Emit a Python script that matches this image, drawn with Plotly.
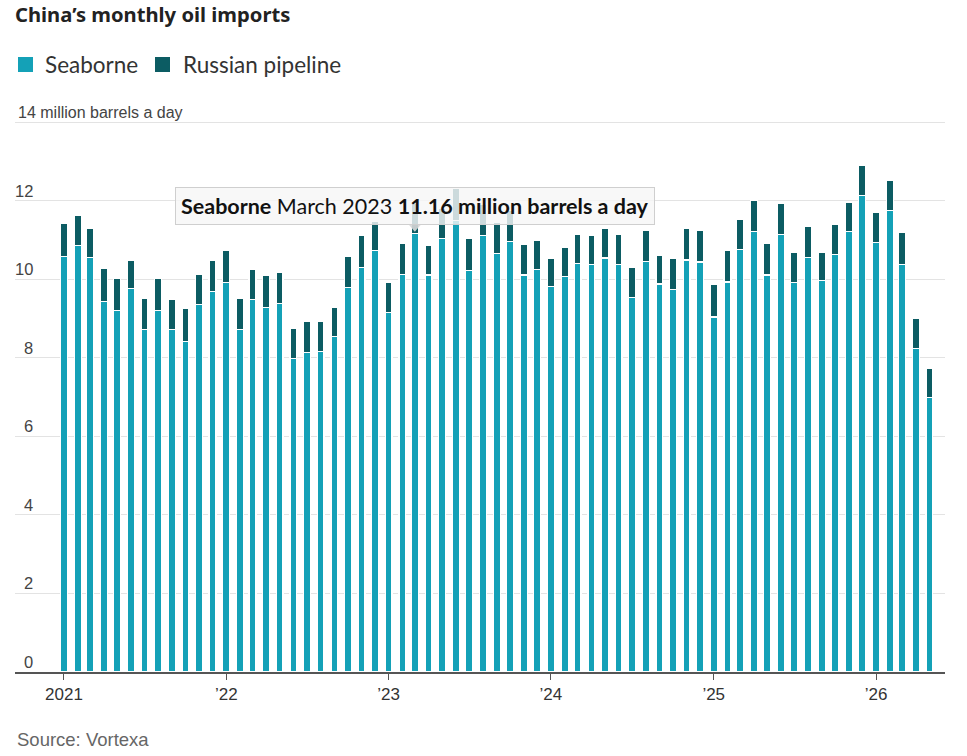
import plotly.graph_objects as go

# ---- data (million barrels a day), monthly Jan 2021 - May 2026 ----
months = [f"{y}-{m:02d}-01" for y in range(2021, 2027) for m in range(1, 13)][:65]

seaborne = [
    10.59, 10.87, 10.56, 9.44, 9.20, 9.76, 8.73, 9.20, 8.73, 8.42, 9.35, 9.68,
    9.92, 8.73, 9.49, 9.28, 9.39, 7.98, 8.13, 8.17, 8.55, 9.80, 10.30, 10.73,
    9.15, 10.13, 11.16, 10.11, 11.03, 11.50, 10.22, 11.12, 10.65, 10.96, 10.11, 10.24,
    9.81, 10.07, 10.41, 10.37, 10.54, 10.37, 9.54, 10.45, 9.88, 9.73, 10.49, 10.44,
    9.04, 9.93, 10.76, 11.21, 10.11, 11.13, 9.92, 10.56, 9.96, 10.64, 11.21, 12.13,
    10.93, 11.75, 10.37, 8.23, 6.98,
]
pipeline = [
    0.84, 0.75, 0.74, 0.84, 0.81, 0.71, 0.79, 0.81, 0.75, 0.83, 0.77, 0.81,
    0.81, 0.79, 0.75, 0.81, 0.78, 0.78, 0.81, 0.77, 0.74, 0.79, 0.81, 0.74,
    0.78, 0.79, 0.78, 0.74, 0.77, 0.82, 0.82, 0.78, 0.80, 0.80, 0.78, 0.76,
    0.73, 0.74, 0.74, 0.74, 0.76, 0.78, 0.77, 0.80, 0.73, 0.81, 0.81, 0.81,
    0.82, 0.80, 0.77, 0.81, 0.81, 0.79, 0.77, 0.78, 0.73, 0.77, 0.76, 0.77,
    0.78, 0.76, 0.82, 0.78, 0.76,
]

year_ticks = ["2021-01-01", "2022-01-01", "2023-01-01", "2024-01-01", "2025-01-01", "2026-01-01"]
year_labels = ["2021", "\u201922", "\u201923", "\u201924", "\u201925", "\u201926"]
y_ticks = [0, 2, 4, 6, 8, 10, 12, 14]
y_labels = ["0", "2", "4", "6", "8", "10", "12", "14 million barrels a day"]
series_names = ["Seaborne", "Russian pipeline"]

hover_idx = 26  # March 2023

SEA = "#14A1B7"
PIPE = "#0C5C63"
COLORS = [SEA, PIPE]
TICKFONT = "Liberation Sans, Arial, sans-serif"
WIDE = "Lato, Noto Sans, sans-serif"

W, H = 967, 756
ML, MR, MT, MB = 15, 22, 121, 84
PW, PH = W - ML - MR, H - MT - MB


def px_x(p):  # pixel -> paper x
    return (p - ML) / PW


def px_y(p):  # pixel -> paper y
    return (H - MB - p) / PH


fig = go.Figure()
for name, vals, col in zip(series_names, [seaborne, pipeline], COLORS):
    fig.add_bar(x=months, y=vals, name=name, marker=dict(color=col, line=dict(color="white", width=1.2)))

fig.update_layout(
    barmode="stack",
    bargap=0.45,
    width=W, height=H,
    margin=dict(l=ML, r=MR, t=MT, b=MB),
    paper_bgcolor="white", plot_bgcolor="white",
    showlegend=False,
    title=dict(text="<b>China\u2019s monthly oil imports</b>", x=15 / W, xref="container", xanchor="left",
               y=1 - 15 / H, yref="container", yanchor="middle",
               font=dict(family="Noto Sans, Lato, sans-serif", size=20.2, color="#222")),
    xaxis=dict(type="date", range=["2020-09-13", "2026-06-05"], tickvals=year_ticks, ticktext=year_labels,
               showgrid=False, showline=True, linecolor="#555", linewidth=2,
               ticks="outside", ticklen=6, tickcolor="#555", tickwidth=1,
               tickfont=dict(family=TICKFONT, size=17, color="#333"), fixedrange=True),
    yaxis=dict(range=[0, 14.03], tickvals=y_ticks, showticklabels=False,
               showgrid=True, gridcolor="#e3e3e3", gridwidth=1, zeroline=False, showline=False,
               ticks="", fixedrange=True),
)

# y-axis labels, sitting above gridlines, numbers right-aligned
for v, lab in zip(y_ticks, y_labels):
    if v == y_ticks[-1]:
        fig.add_annotation(x=px_x(16), xref="paper", y=v, yref="y", text=lab, showarrow=False,
                           xanchor="left", yanchor="bottom", yshift=-1,
                           font=dict(family=TICKFONT, size=16, color="#444"))
    else:
        fig.add_annotation(x=px_x(35), xref="paper", y=v, yref="y", text=lab, showarrow=False,
                           xanchor="right", yanchor="bottom", yshift=-1,
                           font=dict(family=TICKFONT, size=16.5, color="#444"))

# custom legend
legend_sq_x = [18, 155]
legend_txt_x = [43, 181]
for name, col, sx, tx in zip(series_names, COLORS, legend_sq_x, legend_txt_x):
    fig.add_shape(type="rect", xref="paper", yref="paper", x0=px_x(sx), x1=px_x(sx + 15),
                  y0=px_y(72), y1=px_y(57), fillcolor=col, line=dict(width=0))
    fig.add_annotation(x=px_x(tx), xref="paper", y=px_y(64.5), yref="paper", text=name, showarrow=False,
                       xanchor="left", yanchor="middle",
                       font=dict(family=WIDE, size=22.5, color="#333"))

# tooltip for the hovered bar
fig.add_annotation(
    x=months[hover_idx], y=seaborne[hover_idx], xref="x", yref="y",
    text=f"<b>{series_names[0]}</b> March 2023 <b>{seaborne[hover_idx]:.2f} million barrels a day</b>",
    showarrow=False, yanchor="bottom", xanchor="center", yshift=9,
    bgcolor="rgba(246,246,246,0.82)", bordercolor="#cfcfcf", borderwidth=1, borderpad=5,
    font=dict(family=WIDE, size=21.5, color="#111"),
)
# tooltip pointer (small downward triangle, in pixel units anchored to the bar top)
fig.add_shape(
    type="path", xref="x", yref="y", xsizemode="pixel", ysizemode="pixel",
    xanchor=months[hover_idx], yanchor=seaborne[hover_idx],
    path="M -6,9 L 6,9 L 0,2 Z", fillcolor="rgba(215,215,215,0.9)", line=dict(width=0),
)

fig.add_annotation(
    text="Source: Vortexa", xref="paper", yref="paper", x=px_x(15), y=px_y(739),
    xanchor="left", yanchor="middle", showarrow=False,
    font=dict(family=TICKFONT, size=18.5, color="#666"),
)

fig.write_html("out.html")
